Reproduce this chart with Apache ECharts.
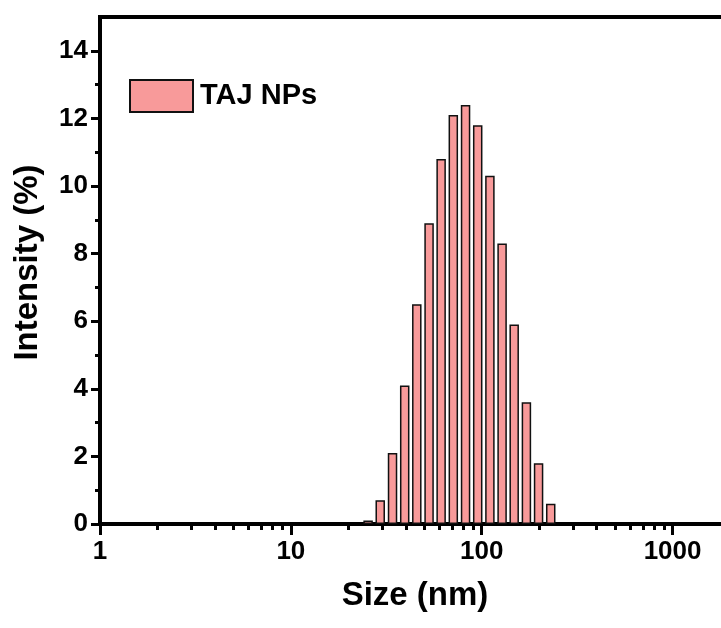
<!DOCTYPE html>
<html>
<head>
<meta charset="utf-8">
<style>
  html, body {margin: 0; padding: 0; background: #fff;}
  #chart {width: 721px; height: 628px;}
</style>
<script src="https://cdn.jsdelivr.net/npm/echarts@6/dist/echarts.min.js"></script>
</head>
<body>
<div id="chart"></div>
<script>
  // size bins (nm) and intensity (%)
  const sizes = [25.4, 29.4, 34.1, 39.5, 45.7, 53.0, 61.3, 71.0, 82.3, 95.3, 110.4, 127.9, 148, 171.5, 198.6, 230]
  const intensity = [0.1, 0.7, 2.1, 4.1, 6.5, 8.9, 10.8, 12.1, 12.4, 11.8, 10.3, 8.3, 5.9, 3.6, 1.8, 0.6]
  const seriesName = 'TAJ NPs'

  const xMajor = [1, 10, 100, 1000]
  const xMinor = [2, 3, 4, 5, 6, 7, 8, 9, 20, 30, 40, 50, 60, 70, 80, 90,
    200, 300, 400, 500, 600, 700, 800, 900, 2000]
  const yMajor = [0, 2, 4, 6, 8, 10, 12, 14]
  const yMinor = [1, 3, 5, 7, 9, 11, 13]

  const font = "'Liberation Sans', Arial, sans-serif"
  const chart = echarts.init(document.getElementById('chart'))

  const data = []
  sizes.forEach((s, i) => {
    data.push([s, intensity[i]])
  })

  // plot runs past the right edge of the picture (x max 2000)
  chart.setOption({
    animation: false,
    grid: {
      left: 100,
      top: 17,
      width: 630,
      height: 507,
      outerBoundsMode: 'none',
      containLabel: false,
      show: true,
      borderColor: '#000',
      borderWidth: 4
    },
    legend: {
      left: 129,
      top: 79,
      padding: 0,
      itemWidth: 63,
      itemHeight: 32,
      icon: 'rect',
      data: [seriesName],
      textStyle: {fontFamily: font, fontSize: 29, fontWeight: 'bold', color: '#000', padding: [0, 0, 0, 2]}
    },
    xAxis: [
      {
        type: 'log',
        logBase: 10,
        min: 1,
        max: 2000,
        position: 'bottom',
        name: 'Size (nm)',
        nameLocation: 'middle',
        nameGap: 55,
        nameTextStyle: {fontFamily: font, fontSize: 33, fontWeight: 'bold', color: '#000'},
        axisLine: {lineStyle: {color: '#000', width: 4}},
        axisTick: {length: 11, lineStyle: {color: '#000', width: 3}, customValues: xMajor},
        axisLabel: {
          customValues: xMajor,
          margin: 15,
          fontFamily: font,
          fontSize: 26,
          fontWeight: 'bold',
          color: '#000',
          formatter: function (v) { return String(Math.round(v)) }
        },
        splitLine: {show: false}
      },
      {
        type: 'log',
        logBase: 10,
        min: 1,
        max: 2000,
        position: 'bottom',
        axisLine: {show: false},
        axisTick: {length: 6, lineStyle: {color: '#000', width: 3}, customValues: xMinor},
        axisLabel: {show: false},
        splitLine: {show: false}
      }
    ],
    yAxis: [
      {
        type: 'value',
        min: 0,
        max: 15,
        position: 'left',
        name: 'Intensity (%)',
        nameLocation: 'middle',
        nameGap: 56,
        nameTextStyle: {fontFamily: font, fontSize: 33, fontWeight: 'bold', color: '#000', padding: [0, 0, 0, 16]},
        axisLine: {show: true, lineStyle: {color: '#000', width: 4}},
        axisTick: {length: 9, lineStyle: {color: '#000', width: 3}, customValues: yMajor},
        axisLabel: {
          customValues: yMajor,
          margin: 12,
          fontFamily: font,
          fontSize: 26,
          fontWeight: 'bold',
          color: '#000'
        },
        splitLine: {show: false}
      },
      {
        type: 'value',
        min: 0,
        max: 15,
        position: 'left',
        axisLine: {show: false},
        axisTick: {show: true, length: 5, lineStyle: {color: '#000', width: 3}, customValues: yMinor},
        axisLabel: {show: false},
        splitLine: {show: false}
      }
    ],
    series: [
      {
        name: seriesName,
        type: 'bar',
        xAxisIndex: 0,
        yAxisIndex: 0,
        barWidth: 9.5,
        itemStyle: {color: '#f89a9a', borderColor: '#111', borderWidth: 1.5},
        data: data
      }
    ]
  })
</script>
</body>
</html>
